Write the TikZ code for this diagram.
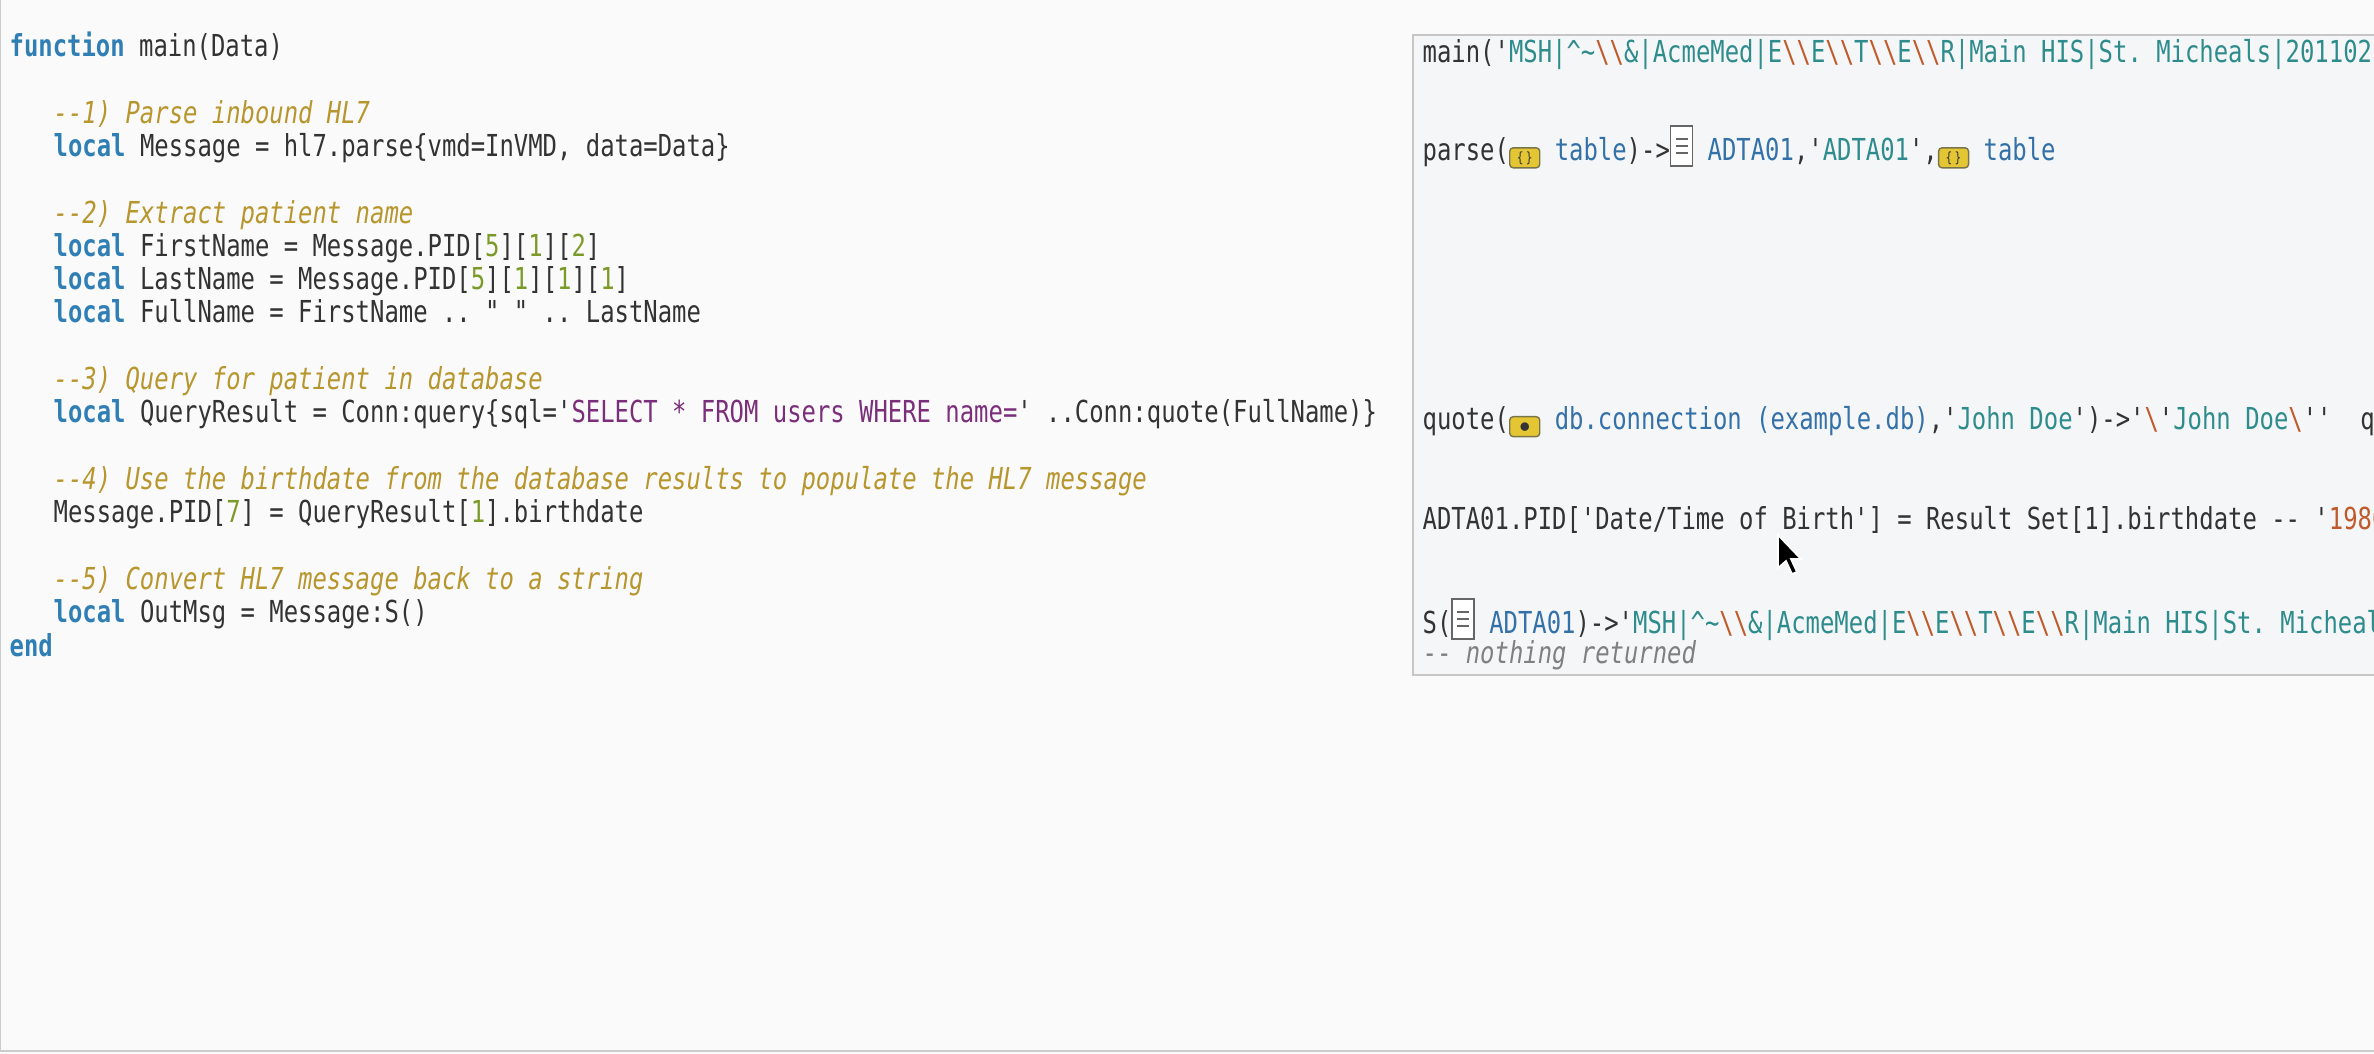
\documentclass[tikz,border=0pt]{standalone}
\usepackage{fontspec}
\setmonofont[FakeStretch=0.79]{DejaVu Sans Mono}
\usetikzlibrary{positioning}
\definecolor{kwcolor}{HTML}{2F7FB5}
\definecolor{cmcolor}{HTML}{B8962E}
\definecolor{numcolor}{HTML}{7C9A2A}
\definecolor{sqlcolor}{HTML}{7B2F7B}
\definecolor{strcolor}{HTML}{2E8C8C}
\definecolor{esccolor}{HTML}{C05A2A}
\definecolor{idcolor}{HTML}{3371A8}
\definecolor{fgcolor}{HTML}{333333}
\definecolor{panelcolor}{HTML}{F5F6F8}
\newcommand{\kw}[1]{\textcolor{kwcolor}{\bfseries #1}}
\newcommand{\cm}[1]{\textcolor{cmcolor}{\itshape #1}}
\newcommand{\nm}[1]{\textcolor{numcolor}{#1}}
\newcommand{\st}[1]{\textcolor{strcolor}{#1}}
\newcommand{\es}{\textcolor{esccolor}{\textbackslash\textbackslash}}
\newcommand{\idn}[1]{\textcolor{idcolor}{#1}}
\newcommand{\tblicon}{\tikz[baseline=0.2mm]\node[draw=yellow!40!black, fill=yellow!55!brown, rounded corners=1pt,
  minimum width=3mm, minimum height=2mm, inner sep=0pt, font=\fontsize{4}{4}\selectfont]{\{\,\}};}
\newcommand{\dbicon}{\tikz[baseline=0.2mm]\node[draw=yellow!40!black, fill=yellow!55!brown, rounded corners=1pt,
  minimum width=3mm, minimum height=2mm, inner sep=0pt, font=\fontsize{4}{4}\selectfont]{$\bullet$};}
\newcommand{\docicon}{\tikz[baseline=0.6mm]{\draw[gray!80!black, fill=white] (0cm,0cm) rectangle (0.22cm,0.4cm);
  \foreach \h in {0.27,0.2,0.13} \draw[gray!80!black] (0.05cm,\h cm) -- (0.17cm,\h cm);}}
\begin{document}
\begin{tikzpicture}[
      x=0.01cm, y=-0.01cm,
      % Styles
      code/.style={% one line of code
        anchor=base west,
        inner sep=0pt,
        text=fgcolor,
        font=\ttfamily\fontsize{8.6}{10}\selectfont
      }
      ]
      \useasboundingbox (0,0) rectangle (2374,1054);
      \fill[white!98!black] (0,0) rectangle (2374,1054);
      \draw[gray!40] (0.5,0) -- (0.5,1051) -- (2374,1051);

      % Editor lines
      \node [code] (l1) at (9,56) {\kw{function} main(Data)};
      \node [code] (l2) at (53,123) {\cm{--1) Parse inbound HL7}};
      \node [code] (l3) at (53,156) {\kw{local} Message = hl7.parse\{vmd=InVMD, data=Data\}};
      \node [code] (l4) at (53,223) {\cm{--2) Extract patient name}};
      \node [code] (l5) at (53,256) {\kw{local} FirstName = Message.PID[\nm{5}][\nm{1}][\nm{2}]};
      \node [code] (l6) at (53,289) {\kw{local} LastName = Message.PID[\nm{5}][\nm{1}][\nm{1}][\nm{1}]};
      \node [code] (l7) at (53,322) {\kw{local} FullName = FirstName .. " " .. LastName};
      \node [code] (l8) at (53,389) {\cm{--3) Query for patient in database}};
      \node [code] (l9) at (53,422) {\kw{local} QueryResult = Conn:query\{sql='\textcolor{sqlcolor}{SELECT * FROM users WHERE name=}' ..Conn:quote(FullName)\}};
      \node [code] (l10) at (53,489) {\cm{--4) Use the birthdate from the database results to populate the HL7 message}};
      \node [code] (l11) at (53,522) {Message.PID[\nm{7}] = QueryResult[\nm{1}].birthdate};
      \node [code] (l12) at (53,589) {\cm{--5) Convert HL7 message back to a string}};
      \node [code] (l13) at (53,622) {\kw{local} OutMsg = Message:S()};
      \node [code] (l14) at (9,656) {\kw{end}};

      % Annotation panel
      \begin{scope}
        \clip (1412,34) rectangle (2374,676);
        \fill[panelcolor] (1413,35) rectangle (2380,675);
        \draw[gray!45, line width=0.6pt] (2380,35) -- (1413,35) -- (1413,675) -- (2380,675);
        \node [code] (r1) at (1422,62) {main('\st{MSH|\textasciicircum\textasciitilde}\es\st{\&|AcmeMed|E}\es\st{E}\es\st{T}\es\st{E}\es\st{R|Main HIS|St. Micheals|20110213145400}')};
        \node [code] (r2) at (1422,160) {parse(\tblicon\ \idn{table})->\docicon\ \idn{ADTA01},'\st{ADTA01}',\tblicon\ \idn{table}};
        \node [code] (r3) at (1422,429) {quote(\dbicon\ \idn{db.connection (example.db)},'\st{John Doe}')->'\textcolor{esccolor}{\textbackslash}'\st{John Doe}\textcolor{esccolor}{\textbackslash}''\ \ query(};
        \node [code] (r4) at (1422,529) {ADTA01.PID['Date/Time of Birth'] = Result Set[1].birthdate -- '\textcolor{esccolor}{19800101}'};
        \node [code] (r5) at (1422,633) {S(\docicon\ \idn{ADTA01})->'\st{MSH|\textasciicircum\textasciitilde}\es\st{\&|AcmeMed|E}\es\st{E}\es\st{T}\es\st{E}\es\st{R|Main HIS|St. Micheals}'};
        \node [code, text=gray] (r6) at (1422,663) {-- \itshape nothing returned};
      \end{scope}

      % Mouse pointer
      \draw[white, fill=black, line width=0.5pt] (1778,535) -- (1778,568) -- (1786,561) -- (1792,574)
        -- (1797,572) -- (1791,559) -- (1801,559) -- cycle;
    \end{tikzpicture}
\end{document}
